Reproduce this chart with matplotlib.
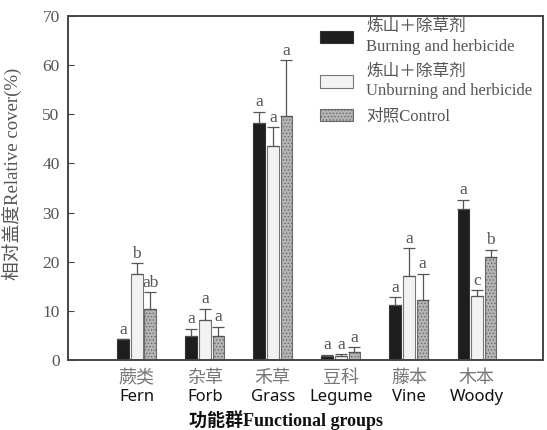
import matplotlib
matplotlib.use("Agg")
import matplotlib.pyplot as plt
import matplotlib.transforms as mtransforms
import numpy as np
from matplotlib.patches import Patch

groups_cn = ['蕨类', '杂草', '禾草', '豆科', '藤本', '木本']
groups_en = ['Fern', 'Forb', 'Grass', 'Legume', 'Vine', 'Woody']

burn = [4.2, 4.9, 48.3, 0.8, 11.1, 30.7]
burn_err = [0.0, 1.5, 2.2, 0.3, 1.7, 1.9]
unburn = [17.4, 8.1, 43.5, 0.8, 17.1, 13.0]
unburn_err = [2.3, 2.3, 3.9, 0.4, 5.6, 1.2]
ctrl = [10.3, 4.9, 49.7, 1.7, 12.3, 21.0]
ctrl_err = [3.5, 1.9, 11.3, 0.9, 5.3, 1.4]

burn_sig = ['a', 'a', 'a', 'a', 'a', 'a']
unburn_sig = ['b', 'a', 'a', 'a', 'a', 'c']
ctrl_sig = ['ab', 'a', 'a', 'a', 'a', 'b']

leg_labels = ['炼山＋除草剂\nBurning and herbicide',
              '炼山＋除草剂\nUnburning and herbicide',
              '对照Control']

MIX = ['Liberation Serif', 'Noto Sans CJK SC']
TXT = '#555555'

plt.rcParams['hatch.color'] = '#7a7a7a'
plt.rcParams['hatch.linewidth'] = 0.6

fig = plt.figure(figsize=(5.47, 4.30), dpi=100)
ax = fig.add_axes([0.1243, 0.1628, 0.8684, 0.8000])

x = np.arange(len(groups_en))
w = 0.172
step = 0.2
series = [
    (burn, burn_err, burn_sig, dict(color='#1e1e1e', edgecolor='#333333')),
    (unburn, unburn_err, unburn_sig, dict(color='#f2f2f2', edgecolor='#777777')),
    (ctrl, ctrl_err, ctrl_sig, dict(color='#b4b4b4', edgecolor='#6a6a6a', hatch='.....')),
]

for i, (vals, errs, sigs, style) in enumerate(series):
    pos = x + (i - 1) * step
    ax.bar(pos, vals, width=w, linewidth=0.8, zorder=2, **style)
    errs = np.array(errs)
    ax.errorbar(pos, vals, yerr=[np.zeros_like(errs), errs], fmt='none',
                ecolor='#555555', elinewidth=0.9, capsize=4, capthick=0.9, zorder=3)
    for p, v, e, s in zip(pos, vals, errs, sigs):
        ax.text(p, v + e + 0.3, s, ha='center', va='bottom', fontsize=12.5,
                family=MIX, color=TXT)

ax.set_xlim(-1.01, 5.97)
ax.set_ylim(0, 70)
ax.set_yticks(np.arange(0, 71, 10))
ax.set_xticks([])
ax.tick_params(axis='y', direction='in', length=4, color='#444444',
               labelsize=12.5, labelcolor=TXT, pad=6)
for lab in ax.get_yticklabels():
    lab.set_family(MIX)
for sp in ax.spines.values():
    sp.set_color('#444444')
    sp.set_linewidth(1.4)

ax.set_ylabel('相对盖度Relative cover(%)', family=MIX, fontsize=13.5, color=TXT)
ax.yaxis.set_label_coords(-0.097, 0.54)

trans = mtransforms.blended_transform_factory(ax.transData, fig.transFigure)
for xi, cn, en in zip(x, groups_cn, groups_en):
    ax.text(xi, 1 - 378 / 430, cn, transform=trans, ha='center', va='center',
            family='Noto Sans CJK SC', fontsize=13, color='#777777')
    ax.text(xi, 1 - 397 / 430, en, transform=trans, ha='center', va='center',
            family='Noto Sans', fontsize=12, color='#111111')

fig.text(286 / 547, 1 - 420 / 430, '功能群Functional groups', ha='center',
         va='center', family=MIX, fontsize=13, fontweight='bold', color='#111111')

handles = [Patch(facecolor=s[3]['color'], edgecolor=s[3]['edgecolor'],
                 hatch=s[3].get('hatch'), linewidth=0.8) for s in series]
leg = ax.legend(handles, leg_labels, loc='upper left', bbox_to_anchor=(0.505, 1.025),
                frameon=False, prop={'family': MIX, 'size': 12}, labelcolor=TXT,
                handlelength=2.0, handleheight=0.8, handletextpad=0.8,
                labelspacing=0.55, borderpad=0.2)
for t in leg.get_texts():
    t.set_linespacing(1.3)

fig.savefig('out.png', dpi=100)
